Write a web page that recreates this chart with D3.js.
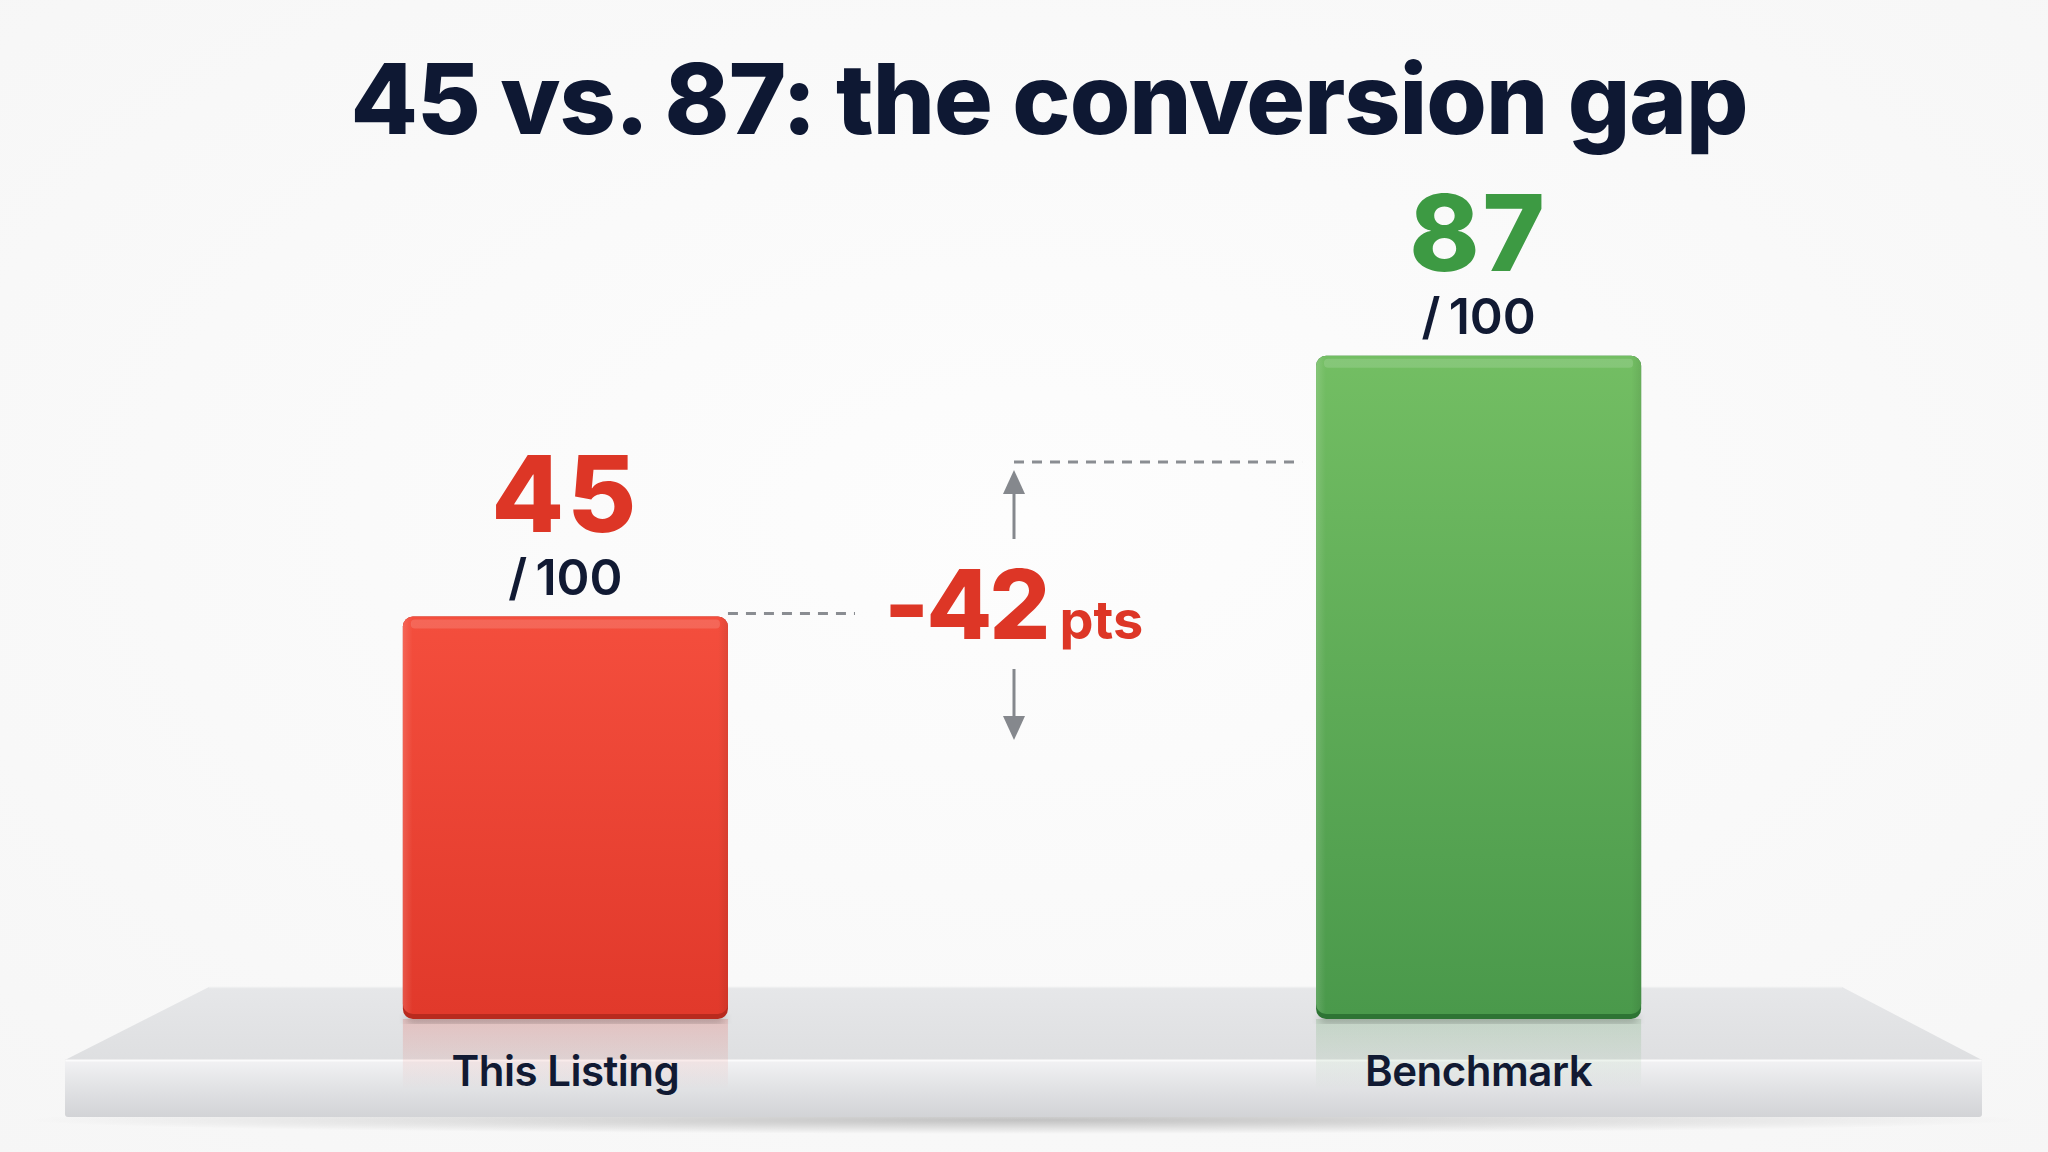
<!DOCTYPE html>
<html>
<head>
<meta charset="utf-8">
<script src="https://cdn.jsdelivr.net/npm/d3@7"></script>
<style>
  html, body { margin: 0; padding: 0; background: #fafafa; }
  svg { display: block; }
</style>
</head>
<body>
<svg id="chart" width="2048" height="1152"></svg>
<script>
// 45 vs 87 conversion gap

const categories = ['This Listing', 'Benchmark'];
const scores = [45, 87];
const maxScore = 100;
const title = '45 vs. 87: the conversion gap';

const barColors = [
  { top: '#f44e3d', bottom: '#e1392b', edge: '#b82a1e', text: '#dd3626' },
  { top: '#73be63', bottom: '#4a994b', edge: '#2e7434', text: '#3d9a43' }
];

const W = 2048, H = 1152;
const floorY = 1019;
const navy = '#111a33';
const font = 'Inter, "Liberation Sans", Arial, sans-serif';

const svg = d3.select('#chart');
const defs = svg.append('defs');

// scales
const x = d3.scaleBand()
  .domain(categories)
  .range([170, 1874])
  .paddingInner(0.644)
  .paddingOuter(0.255);

// the bars stand on a plinth, so the value axis starts above the floor
const y = d3.scaleLinear()
  .domain([0, maxScore])
  .range([896, 275]);

// background
const bg = defs.append('radialGradient').attr('id', 'bg')
  .attr('cx', '50%').attr('cy', '45%').attr('r', '75%');
bg.append('stop').attr('offset', '0%').attr('stop-color', '#fdfdfd');
bg.append('stop').attr('offset', '100%').attr('stop-color', '#f6f6f6');
svg.append('rect').attr('width', W).attr('height', H).attr('fill', 'url(#bg)');

// gradients for bars and reflections
barColors.forEach((c, i) => {
  const g = defs.append('linearGradient').attr('id', `bar${i}`)
    .attr('x1', 0).attr('y1', 0).attr('x2', 0).attr('y2', 1);
  g.append('stop').attr('offset', '0%').attr('stop-color', c.top);
  g.append('stop').attr('offset', '100%').attr('stop-color', c.bottom);

  const s = defs.append('linearGradient').attr('id', `side${i}`)
    .attr('x1', 0).attr('y1', 0).attr('x2', 1).attr('y2', 0);
  s.append('stop').attr('offset', '0%').attr('stop-color', '#fff').attr('stop-opacity', 0.14);
  s.append('stop').attr('offset', '3%').attr('stop-color', '#fff').attr('stop-opacity', 0);
  s.append('stop').attr('offset', '97%').attr('stop-color', '#000').attr('stop-opacity', 0);
  s.append('stop').attr('offset', '100%').attr('stop-color', '#000').attr('stop-opacity', 0.08);

  const r = defs.append('linearGradient').attr('id', `refl${i}`)
    .attr('x1', 0).attr('y1', 0).attr('x2', 0).attr('y2', 1);
  r.append('stop').attr('offset', '0%').attr('stop-color', c.bottom).attr('stop-opacity', 0.2);
  r.append('stop').attr('offset', '100%').attr('stop-color', c.bottom).attr('stop-opacity', 0);
});

const topGrad = defs.append('linearGradient').attr('id', 'plinthTop')
  .attr('x1', 0).attr('y1', 0).attr('x2', 0).attr('y2', 1);
topGrad.append('stop').attr('offset', '0%').attr('stop-color', '#e6e7e9');
topGrad.append('stop').attr('offset', '100%').attr('stop-color', '#dedfe1');

const frontGrad = defs.append('linearGradient').attr('id', 'plinthFront')
  .attr('x1', 0).attr('y1', 0).attr('x2', 0).attr('y2', 1);
frontGrad.append('stop').attr('offset', '0%').attr('stop-color', '#f2f2f4');
frontGrad.append('stop').attr('offset', '40%').attr('stop-color', '#e4e5e7');
frontGrad.append('stop').attr('offset', '100%').attr('stop-color', '#d2d3d6');

const shadow = defs.append('radialGradient').attr('id', 'floorShadow')
  .attr('cx', '50%').attr('cy', '50%').attr('r', '50%');
shadow.append('stop').attr('offset', '0%').attr('stop-color', '#000').attr('stop-opacity', 0.22);
shadow.append('stop').attr('offset', '100%').attr('stop-color', '#000').attr('stop-opacity', 0);

defs.append('filter').attr('id', 'soft')
  .append('feGaussianBlur').attr('stdDeviation', 4);

// plinth
const plinth = svg.append('g').attr('class', 'plinth');
plinth.append('ellipse')
  .attr('cx', 1024).attr('cy', 1120).attr('rx', 1000).attr('ry', 14)
  .attr('fill', 'url(#floorShadow)');
plinth.append('path')
  .attr('d', 'M209,987 L1842,987 L1982,1060 L65,1060 Z')
  .attr('fill', 'url(#plinthTop)');
plinth.append('rect')
  .attr('x', 65).attr('y', 1060).attr('width', 1917).attr('height', 57)
  .attr('rx', 3)
  .attr('fill', 'url(#plinthFront)');
plinth.append('line')
  .attr('x1', 66).attr('x2', 1981).attr('y1', 1060.5).attr('y2', 1060.5)
  .attr('stroke', '#fbfbfc').attr('stroke-width', 2);
plinth.append('line')
  .attr('x1', 209).attr('x2', 1842).attr('y1', 987.5).attr('y2', 987.5)
  .attr('stroke', '#eeeff0').attr('stroke-width', 1.5);

// reflections under the bars
svg.append('g')
  .selectAll('rect')
  .data(scores)
  .join('rect')
    .attr('x', (d, i) => x(categories[i]))
    .attr('y', floorY)
    .attr('width', x.bandwidth())
    .attr('height', 70)
    .attr('fill', (d, i) => `url(#refl${i})`);

// bar contact shadows
svg.append('g')
  .selectAll('rect')
  .data(scores)
  .join('rect')
    .attr('x', (d, i) => x(categories[i]) + 4)
    .attr('y', floorY - 4)
    .attr('width', x.bandwidth() - 8)
    .attr('height', 8)
    .attr('fill', '#000')
    .attr('opacity', 0.25)
    .attr('filter', 'url(#soft)');

// bars
const bars = svg.append('g').attr('class', 'bars')
  .selectAll('g')
  .data(scores)
  .join('g');

bars.append('rect')
  .attr('x', (d, i) => x(categories[i]))
  .attr('y', d => y(d))
  .attr('width', x.bandwidth())
  .attr('height', d => floorY - y(d))
  .attr('rx', 10)
  .attr('fill', (d, i) => barColors[i].edge);

bars.append('rect')
  .attr('x', (d, i) => x(categories[i]))
  .attr('y', d => y(d))
  .attr('width', x.bandwidth())
  .attr('height', d => floorY - y(d) - 5)
  .attr('rx', 10)
  .attr('fill', (d, i) => `url(#bar${i})`);

bars.append('rect')
  .attr('x', (d, i) => x(categories[i]))
  .attr('y', d => y(d))
  .attr('width', x.bandwidth())
  .attr('height', d => floorY - y(d) - 5)
  .attr('rx', 10)
  .attr('fill', (d, i) => `url(#side${i})`);

// top bevel highlight
bars.append('rect')
  .attr('x', (d, i) => x(categories[i]) + 8)
  .attr('y', d => y(d) + 3)
  .attr('width', x.bandwidth() - 16)
  .attr('height', 9)
  .attr('rx', 4)
  .attr('fill', '#fff')
  .attr('opacity', 0.14);

// value labels: big score with "/ 100" underneath
const cx = i => x(categories[i]) + x.bandwidth() / 2;

const valueLabel = bars.append('text')
  .attr('text-anchor', 'middle')
  .attr('font-family', font);

valueLabel.append('tspan')
  .attr('x', (d, i) => cx(i))
  .attr('y', d => y(d) - 85)
  .attr('font-weight', 800)
  .attr('font-size', 106)
  .attr('letter-spacing', 3)
  .attr('fill', (d, i) => barColors[i].text)
  .text(d => d);

valueLabel.append('tspan')
  .attr('x', (d, i) => cx(i))
  .attr('y', d => y(d) - 22)
  .attr('font-weight', 600)
  .attr('font-size', 50)
  .attr('fill', navy)
  .text(`/\u2009${maxScore}`);

// category labels on the plinth
svg.append('g')
  .selectAll('text')
  .data(categories)
  .join('text')
    .attr('x', d => x(d) + x.bandwidth() / 2)
    .attr('y', 1086)
    .attr('text-anchor', 'middle')
    .attr('font-family', font)
    .attr('font-weight', 600)
    .attr('font-size', 42)
    .attr('letter-spacing', -0.5)
    .attr('fill', navy)
    .text(d => d);

// gap annotation
const gap = scores[0] - scores[1];
const annX = 1014;
const ann = svg.append('g').attr('class', 'gap');
const dashStyle = sel => sel
  .attr('stroke', '#8a8d92')
  .attr('stroke-width', 3)
  .attr('stroke-dasharray', '10 8');

ann.append('line')
  .attr('x1', x(categories[0]) + x.bandwidth()).attr('x2', 855)
  .attr('y1', y(scores[0]) - 3).attr('y2', y(scores[0]) - 3)
  .call(dashStyle);
ann.append('line')
  .attr('x1', annX).attr('x2', x(categories[1]) - 14)
  .attr('y1', 462).attr('y2', 462)
  .call(dashStyle);

const arrow = (y1, y2, tip) => {
  ann.append('line')
    .attr('x1', annX).attr('x2', annX).attr('y1', y1).attr('y2', y2)
    .attr('stroke', '#85888d').attr('stroke-width', 3);
  const dir = Math.sign(tip - y2);
  ann.append('path')
    .attr('d', `M${annX},${tip} L${annX - 11},${tip - dir * 24} L${annX + 11},${tip - dir * 24} Z`)
    .attr('fill', '#85888d');
};
arrow(539, 490, 470);
arrow(669, 720, 740);

const gapText = ann.append('text')
  .attr('x', 884)
  .attr('y', 639)
  .attr('font-family', font)
  .attr('font-weight', 800)
  .attr('fill', '#dd3626');
gapText.append('tspan')
  .attr('font-size', 96)
  .attr('letter-spacing', -3)
  .text(`-${Math.abs(gap)}`);
gapText.append('tspan')
  .attr('dx', 12)
  .attr('font-size', 54)
  .attr('font-weight', 700)
  .text('pts');

// title
svg.append('text')
  .attr('x', 1049)
  .attr('y', 134)
  .attr('text-anchor', 'middle')
  .attr('font-family', font)
  .attr('font-weight', 800)
  .attr('font-size', 98)
  .attr('letter-spacing', -1)
  .attr('fill', '#0e1833')
  .text(title);
</script>
</body>
</html>
